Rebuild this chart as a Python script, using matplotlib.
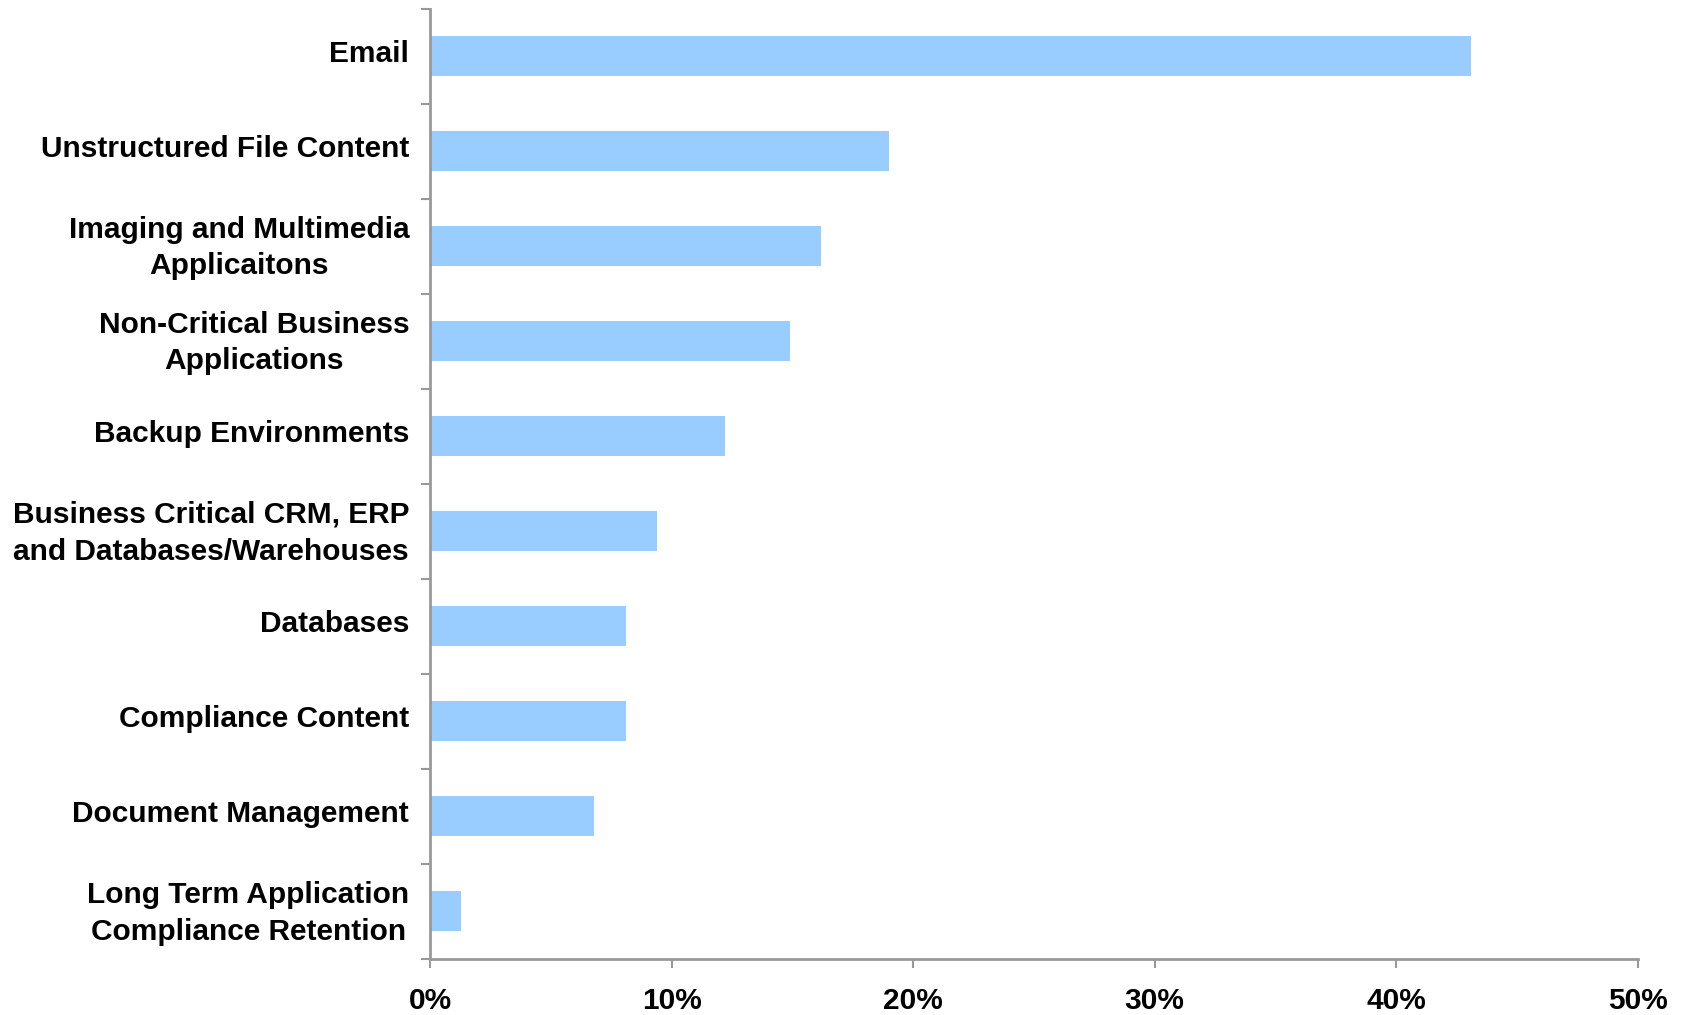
import numpy as np
import matplotlib
matplotlib.use('Agg')
import matplotlib.pyplot as plt
import matplotlib.transforms as mtrans
from matplotlib.ticker import FuncFormatter

categories = ['Email',
              'Unstructured File Content',
              'Imaging and Multimedia\nApplicaitons',
              'Non-Critical Business\nApplications',
              'Backup Environments',
              'Business Critical CRM, ERP\nand Databases/Warehouses',
              'Databases',
              'Compliance Content',
              'Document Management',
              'Long Term Application\nCompliance Retention']
share = [43.1, 19.0, 16.2, 14.9, 12.2, 9.4, 8.1, 8.1, 6.8, 1.3]

plt.rcParams['font.family'] = ['Liberation Sans', 'DejaVu Sans']

f = plt.figure(figsize=(16.83, 10.15), dpi=100)
ax = f.add_axes([0.2555, 0.0552, 0.7175, 0.9363])

y = np.arange(len(categories))
ax.barh(y, share, height=0.42, color='#99ccff')

ax.set_xlim(0, 50)
ax.set_ylim(len(categories) - 0.5, -0.5)
ax.set_xticks(np.arange(0, 51, 10))
ax.xaxis.set_major_formatter(FuncFormatter(lambda v, p: f'{v:.0f}%'))

# labels centred on bars, ticks on category boundaries
ax.set_yticks(y)
ax.set_yticklabels(categories, fontsize=21.5, fontweight='bold', linespacing=1.4)
ax.set_yticks(np.arange(-0.5, len(categories), 1), minor=True)
ax.tick_params(axis='y', which='major', length=0, pad=15)
ax.tick_params(axis='y', which='minor', length=6.5, width=1.5, color='#999999')
shift = mtrans.ScaledTranslation(0, 4 / 72, f.dpi_scale_trans)
for lab in ax.get_yticklabels():
    lab.set_horizontalalignment('right')
    lab.set_multialignment('center')
    lab.set_transform(lab.get_transform() + shift)

ax.tick_params(axis='x', length=6.5, width=1.5, color='#999999', labelsize=21.5, pad=13.5)
for lab in ax.get_xticklabels():
    lab.set_fontweight('bold')

for s in ['top', 'right']:
    ax.spines[s].set_visible(False)
for s in ['left', 'bottom']:
    ax.spines[s].set_color('#999999')
    ax.spines[s].set_linewidth(2)

f.savefig('out.png', dpi=100)
plt.close()
